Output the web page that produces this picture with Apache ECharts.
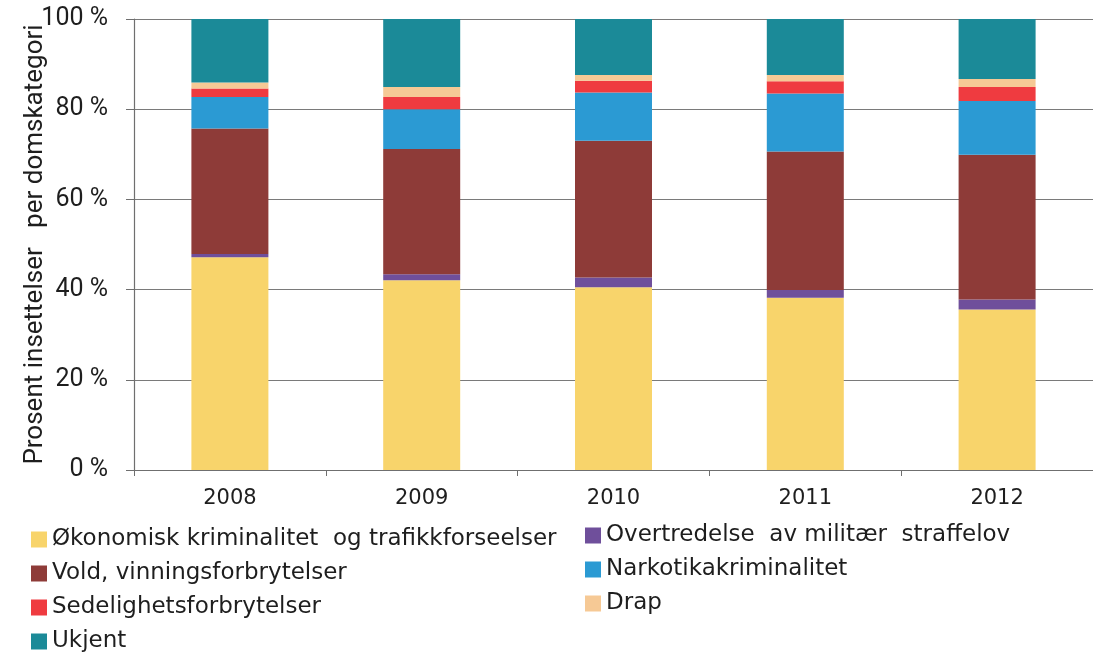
<!DOCTYPE html>
<html>
<head>
<meta charset="utf-8">
<title>Prosent insettelser per domskategori</title>
<script src="https://cdn.jsdelivr.net/npm/echarts@6/dist/echarts.min.js"></script>
<style>
  html, body { margin: 0; padding: 0; background: #fff; }
  #chart { width: 1093px; height: 652px; }
</style>
</head>
<body>
<div id="chart"></div>
<script>
// years on the x axis
var years = ['2008', '2009', '2010', '2011', '2012']
var yTicks = [0, 20, 40, 60, 80, 100]

// share of insettelser per category, percent (stack bottom -> top)
var okonomisk = [47.2, 42.1, 40.5, 38.2, 35.6]
var militaer = [0.7, 1.3, 2.2, 1.7, 2.2]
var vold = [27.8, 27.8, 30.3, 30.7, 32.1]
var narkotika = [7.0, 8.8, 10.7, 12.9, 11.9]
var sedelighet = [1.9, 2.7, 2.6, 2.7, 3.1]
var drap = [1.3, 2.2, 1.3, 1.4, 1.8]
var ukjent = [14.1, 15.1, 12.4, 12.4, 13.3]

var names = {
  okonomisk: 'Økonomisk kriminalitet  og trafikkforseelser',
  militaer: 'Overtredelse  av militær  straffelov',
  vold: 'Vold, vinningsforbrytelser',
  narkotika: 'Narkotikakriminalitet',
  sedelighet: 'Sedelighetsforbrytelser',
  drap: 'Drap',
  ukjent: 'Ukjent'
}

var legendText = {
  fontFamily: 'DejaVu Sans',
  fontSize: 23,
  color: '#1e1e1e'
}

function bar(name, data, color) {
  return {
    name: name,
    type: 'bar',
    stack: 'total',
    barWidth: 77,
    data: data,
    itemStyle: { color: color },
    emphasis: { disabled: true }
  }
}

var myChart = echarts.init(document.getElementById('chart'))

var option = {
  backgroundColor: '#fff',
  animation: false,
  grid: {
    left: 134,
    top: 19,
    width: 970,
    height: 451
  },
  legend: [{
      left: 26,
      top: 523,
      width: 560,
      height: 160,
      orient: 'vertical',
      icon: 'rect',
      itemWidth: 16,
      itemHeight: 16,
      itemGap: 11,
      textStyle: legendText,
      data: [names.okonomisk, names.vold, names.sedelighet, names.ukjent]
    },
    {
      left: 580,
      top: 519,
      width: 500,
      height: 160,
      orient: 'vertical',
      icon: 'rect',
      itemWidth: 16,
      itemHeight: 16,
      itemGap: 11,
      textStyle: legendText,
      data: [names.militaer, names.narkotika, names.drap]
    }
  ],
  xAxis: {
    type: 'category',
    data: years,
    axisLine: {
      lineStyle: { color: '#6f6f6f', width: 1.2 }
    },
    axisTick: {
      show: true,
      length: 6,
      lineStyle: { color: '#6f6f6f' }
    },
    axisLabel: {
      margin: 18,
      fontFamily: 'DejaVu Sans',
      fontSize: 21,
      color: '#1e1e1e'
    }
  },
  yAxis: {
    type: 'value',
    min: 0,
    max: 100,
    interval: 20,
    name: 'Prosent insettelser   per domskategori',
    nameLocation: 'middle',
    nameRotate: 90,
    nameGap: 86,
    nameMoveOverlap: false,
    nameTextStyle: {
      fontFamily: 'Liberation Sans Narrow, Roboto, sans-serif',
      fontSize: 26,
      color: '#1e1e1e'
    },
    axisLine: {
      show: true,
      lineStyle: { color: '#6f6f6f', width: 1.2 }
    },
    axisTick: {
      show: true,
      inside: false,
      length: 8,
      lineStyle: { color: '#6f6f6f' }
    },
    axisLabel: {
      margin: 26,
      fontFamily: 'Liberation Sans Narrow, Roboto, sans-serif',
      fontSize: 25,
      color: '#1e1e1e',
      formatter: function (v) {
        return yTicks.indexOf(v) > -1 ? v + ' %' : ''
      }
    },
    splitLine: {
      show: true,
      lineStyle: { color: '#7a7a7a', width: 1.2 }
    }
  },
  series: [
    bar(names.okonomisk, okonomisk, '#f8d46b'),
    bar(names.militaer, militaer, '#6f4f9b'),
    bar(names.vold, vold, '#8e3b38'),
    bar(names.narkotika, narkotika, '#2b9ad3'),
    bar(names.sedelighet, sedelighet, '#ef3b40'),
    bar(names.drap, drap, '#f6c995'),
    bar(names.ukjent, ukjent, '#1b8a98')
  ]
}

myChart.setOption(option)
</script>
</body>
</html>
